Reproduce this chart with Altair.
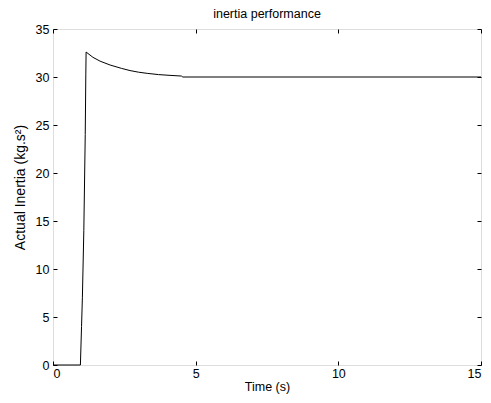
import altair as alt
import pandas as pd

time_s = [0, 0.96, 1.0, 1.03, 1.08, 1.13, 1.15, 1.16, 1.4, 1.65, 2.0, 2.4, 2.7, 3.0,
          3.3, 3.7, 4.1, 4.5, 4.55, 15]
inertia = [0, 0, 4, 7, 14, 24, 30.3, 32.6, 32.05, 31.65, 31.25, 30.9, 30.67, 30.5,
           30.38, 30.25, 30.17, 30.1, 30.0, 30]
x_ticks = [0, 5, 10, 15]
y_ticks = [0, 5, 10, 15, 20, 25, 30, 35]

df = pd.DataFrame({"t": time_s, "v": inertia})

FONT = "Liberation Sans"

xs = alt.Scale(domain=[0, 15], nice=False)
ys = alt.Scale(domain=[0, 35], nice=False)

base = alt.Chart(df)

main = base.mark_line(color="black", strokeWidth=1).encode(
    x=alt.X("t:Q", scale=xs, axis=alt.Axis(
        orient="bottom", values=x_ticks, title="Time (s)", offset=-4, tickSize=4,
        domain=False, grid=False, labelPadding=2, titlePadding=1,
        tickColor="black", labelColor="black", titleColor="black",
        labelFont=FONT, titleFont=FONT, labelFontSize=12.5, titleFontSize=12.5,
        titleFontWeight="normal")),
    y=alt.Y("v:Q", scale=ys, axis=alt.Axis(
        orient="left", values=y_ticks, title="Actual Inertia (kg.s²)", offset=-4,
        tickSize=4, domain=False, grid=False, labelPadding=4, titlePadding=8,
        titleY=158,
        tickColor="black", labelColor="black", titleColor="black",
        labelFont=FONT, titleFont=FONT, labelFontSize=12.5, titleFontSize=14,
        titleFontWeight="normal")),
)

frame = base.mark_line(strokeOpacity=0).encode(
    x=alt.X("t:Q", scale=xs, axis=alt.Axis(
        orient="top", values=x_ticks, title=None, offset=-4, tickSize=4,
        domain=False, grid=False, labels=False, tickColor="black")),
    y=alt.Y("v:Q", scale=ys, axis=alt.Axis(
        orient="right", values=y_ticks, title=None, offset=-4, tickSize=4,
        domain=False, grid=False, labels=False, tickColor="black")),
)

chart = alt.layer(main, frame).resolve_axis(x="independent", y="independent").properties(
    width=428,
    height=336,
    autosize=alt.AutoSizeParams(type="none"),
    padding={"left": 53, "top": 29, "right": 10, "bottom": 38},
    title=alt.TitleParams("inertia performance", font=FONT, fontSize=12.5,
                          fontWeight="normal", anchor="middle", color="black", offset=3),
).configure_view(stroke="black", strokeWidth=1.2).configure(background="white")

chart.save("out.html", embed_options={"renderer": "svg", "actions": False})
